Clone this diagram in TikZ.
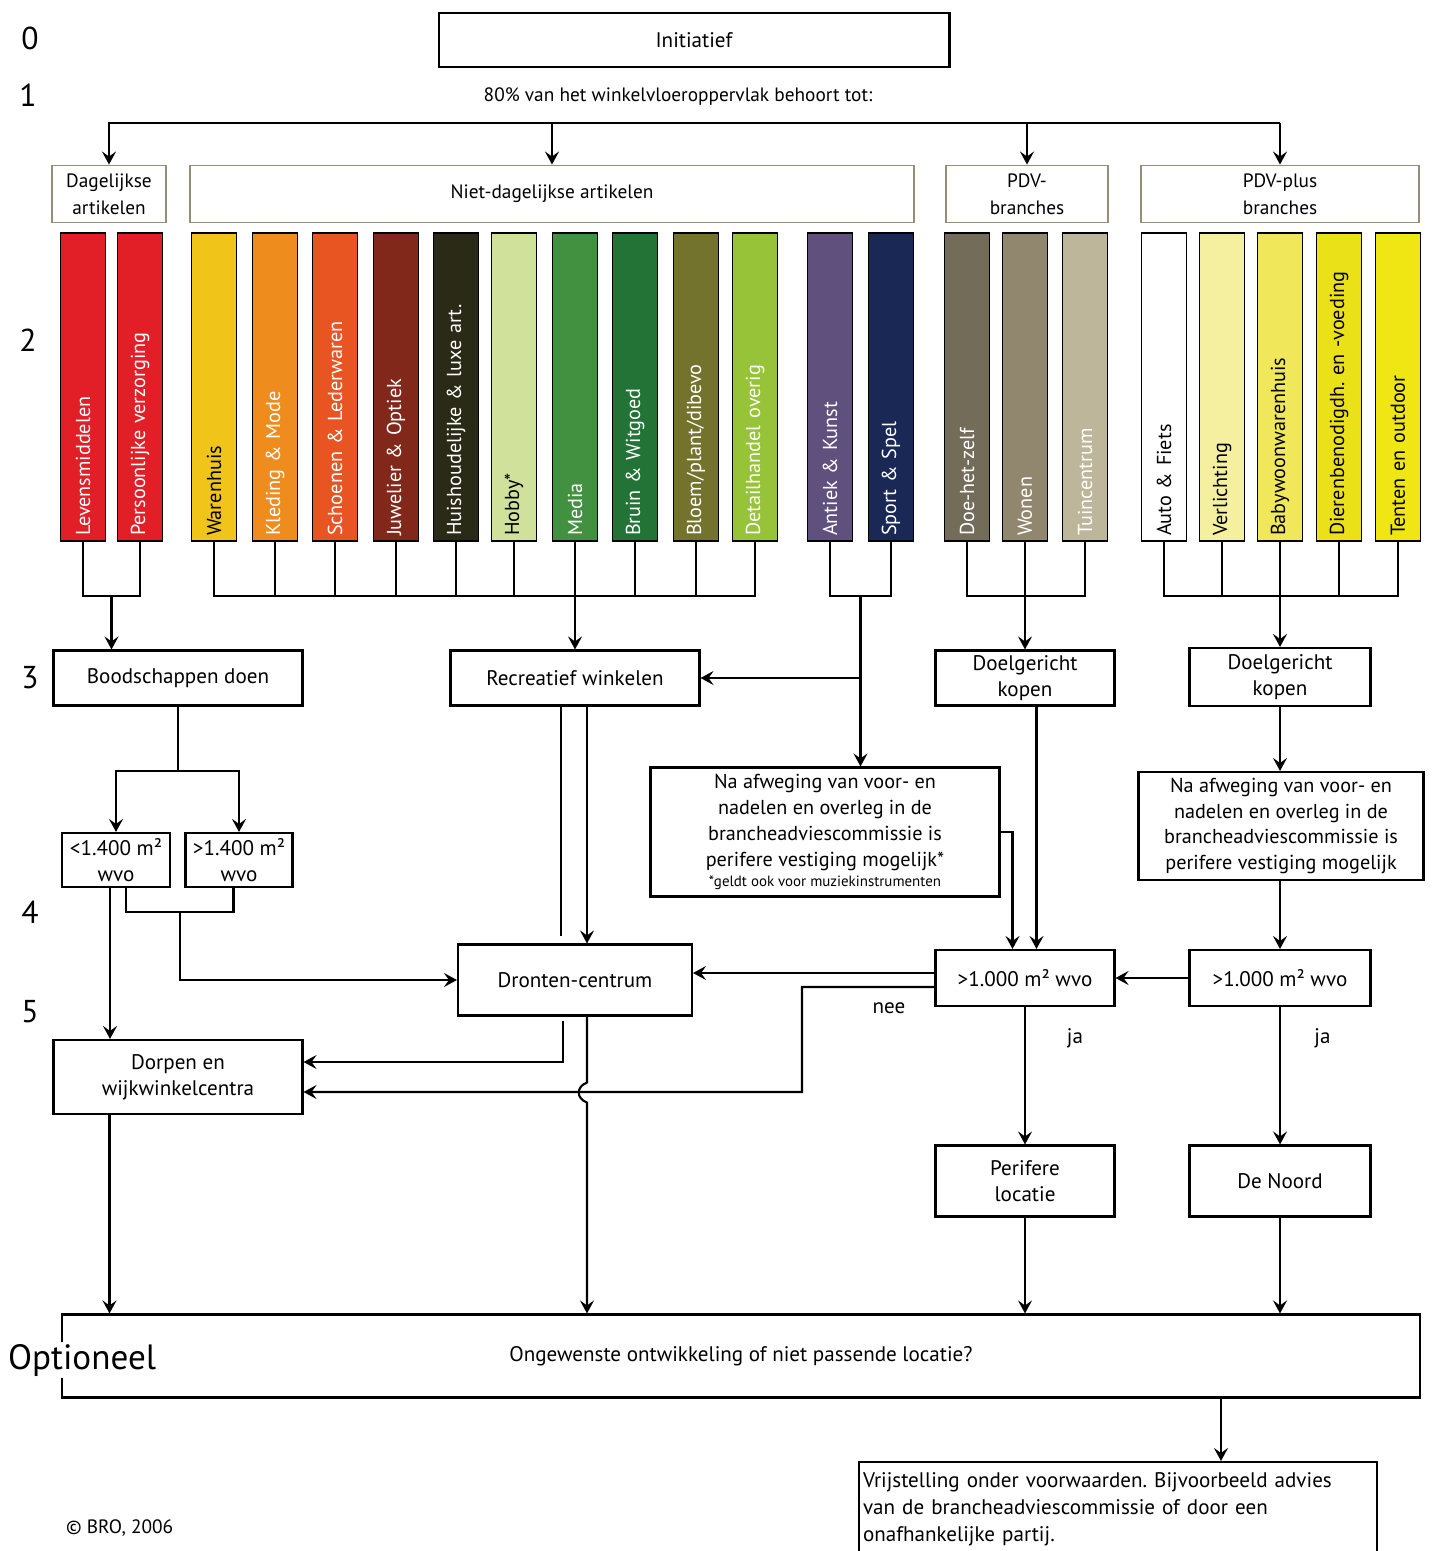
\documentclass[tikz,border=0pt]{standalone}
\usepackage{fontspec}
\setmainfont{PT Sans}
\frenchspacing
\usetikzlibrary{arrows.meta,positioning,calc}
\definecolor{levred}{RGB}{226,30,38}
\definecolor{waren}{RGB}{241,196,25}
\definecolor{kleding}{RGB}{238,140,30}
\definecolor{schoen}{RGB}{232,85,35}
\definecolor{juwel}{RGB}{130,40,26}
\definecolor{huis}{RGB}{43,42,23}
\definecolor{hobby}{RGB}{208,225,155}
\definecolor{media}{RGB}{65,145,65}
\definecolor{bruin}{RGB}{35,115,55}
\definecolor{bloem}{RGB}{115,115,45}
\definecolor{detail}{RGB}{150,195,55}
\definecolor{antiek}{RGB}{95,80,125}
\definecolor{sport}{RGB}{25,40,85}
\definecolor{doe}{RGB}{115,108,88}
\definecolor{wonen}{RGB}{145,135,110}
\definecolor{tuin}{RGB}{190,182,155}
\definecolor{verl}{RGB}{245,240,160}
\definecolor{baby}{RGB}{240,232,90}
\definecolor{dieren}{RGB}{235,225,25}
\definecolor{tenten}{RGB}{240,230,20}
\definecolor{catline}{RGB}{150,140,120}
\newcommand\boxfont{\fontsize{12}{15}\selectfont}
\newcommand\catfont{\fontsize{11}{15.3}\selectfont}
\newcommand\barfont{\fontsize{11.5}{13}\selectfont}
\newcommand\naffont{\fontsize{11.5}{14.7}\selectfont}
\newcommand\notefont{\fontsize{8.5}{10}\selectfont}
\newcommand\rowfont{\fontsize{18}{20}\selectfont}
\tikzset{
  stepbox/.style={draw,line width=1.2pt,fill=white,align=center,font=\boxfont,inner sep=2pt},
  catbox/.style={draw=catline,line width=1.1pt,align=center,font=\catfont,inner sep=2pt},
  bar/.style 2 args={draw,line width=1pt,fill=#1,text=#2,rotate=90,
    minimum height=0.9cm,text width=5.96cm,align=left,inner xsep=3pt,font=\barfont},
  flow/.style={-{Stealth[length=2.6mm,width=2.8mm,inset=1mm]},line width=1.2pt},
  link/.style={line width=1.2pt},
  rowno/.style={font=\rowfont}
}
\begin{document}
\begin{tikzpicture}[x=0.02cm,y=-0.02cm]
  \path[use as bounding box,clip] (0,0) rectangle (1431,1551);
  % level numbers
  \node[rowno] (r0) at (30,38) {0};
  \node[rowno] (r1) at (28,95) {1};
  \node[rowno] (r2) at (28,340) {2};
  \node[rowno] (r3) at (30,678) {3};
  \node[rowno] (r4) at (30,912) {4};
  \node[rowno] (r5) at (30,1012) {5};
  % level 0 and 1
  \node[stepbox,minimum width=10.22cm,minimum height=1.08cm] (init) at (694,40) {Initiatief};
  \node[font=\catfont] (share) at (678,97) {80\% van het winkelvloeroppervlak behoort tot:};
  \coordinate (top) at (0,123);
  \node[catbox,minimum width=2.28cm,minimum height=1.14cm] (dag) at (109,194) {Dagelijkse\\artikelen};
  \node[catbox,minimum width=14.48cm,minimum height=1.14cm] (niet) at (552,194) {Niet-dagelijkse artikelen};
  \node[catbox,minimum width=3.24cm,minimum height=1.14cm] (pdv) at (1027,194) {PDV-\\branches};
  \node[catbox,minimum width=5.56cm,minimum height=1.14cm] (plus) at (1280,194) {PDV-plus\\branches};
  \draw[flow] (plus.north |- top) -| (dag.north);
  \draw[flow] (niet.north |- top) -- (niet.north);
  \draw[flow] (pdv.north |- top) -- (pdv.north);
  \draw[flow] (plus.north |- top) -- (plus.north);
  % level 2: branches
  \node[bar={levred}{white}] (levens) at (83,387) {Levensmiddelen};
  \node[bar={levred}{white}] (pers) at (140,387) {Persoonlijke verzorging};
  \node[bar={waren}{black}] (waren) at (214,387) {Warenhuis};
  \node[bar={kleding}{white}] (kled) at (275,387) {Kleding \& Mode};
  \node[bar={schoen}{white}] (schoen) at (335,387) {Schoenen \& Lederwaren};
  \node[bar={juwel}{white}] (juwel) at (396,387) {Juwelier \& Optiek};
  \node[bar={huis}{white}] (huis) at (456,387) {Huishoudelijke \& luxe art.};
  \node[bar={hobby}{black}] (hobby) at (514,387) {Hobby*};
  \node[bar={media}{white}] (media) at (575,387) {Media};
  \node[bar={bruin}{white}] (bruin) at (635,387) {Bruin \& Witgoed};
  \node[bar={bloem}{white}] (bloem) at (696,387) {Bloem/plant/dibevo};
  \node[bar={detail}{white}] (detail) at (755,387) {Detailhandel overig};
  \node[bar={antiek}{white}] (antiek) at (830,387) {Antiek \& Kunst};
  \node[bar={sport}{white}] (sport) at (891,387) {Sport \& Spel};
  \node[bar={doe}{white}] (doe) at (967,387) {Doe-het-zelf};
  \node[bar={wonen}{white}] (wonen) at (1025,387) {Wonen};
  \node[bar={tuin}{white}] (tuin) at (1085,387) {Tuincentrum};
  \node[bar={white}{black}] (auto) at (1164,387) {Auto \& Fiets};
  \node[bar={verl}{black}] (verl) at (1222,387) {Verlichting};
  \node[bar={baby}{black}] (baby) at (1280,387) {Babywoonwarenhuis};
  \node[bar={dieren}{black}] (dieren) at (1339,387) {Dierenbenodigdh. en -voeding};
  \node[bar={tenten}{black}] (tenten) at (1398,387) {Tenten en outdoor};
  % level 3
  \node[stepbox,minimum width=4.98cm,minimum height=1.1cm] (boods) at (178,678) {Boodschappen doen};
  \node[stepbox,minimum width=4.98cm,minimum height=1.1cm] (recr) at (575,678) {Recreatief winkelen};
  \node[stepbox,minimum width=3.58cm,minimum height=1.1cm] (doel1) at (1025,678) {Doelgericht\\kopen};
  \node[stepbox,minimum width=3.62cm,minimum height=1.16cm] (doel2) at (1280,677) {Doelgericht\\kopen};
  \coordinate (bus) at (0,596);
  \coordinate (dbus) at ($(levens.west |- bus)!.5!(pers.west |- bus)$);
  \coordinate (abus) at ($(antiek.west |- bus)!.5!(sport.west |- bus)$);
  \draw[link] (levens.west) |- (dbus) -| (pers.west);
  \draw[flow] (dbus) -- (dbus |- boods.north);
  \draw[link] (waren.west) |- (detail.west |- bus) -- (detail.west)
    (kled.west) -- (kled.west |- bus) (schoen.west) -- (schoen.west |- bus)
    (juwel.west) -- (juwel.west |- bus) (huis.west) -- (huis.west |- bus)
    (hobby.west) -- (hobby.west |- bus) (bruin.west) -- (bruin.west |- bus)
    (bloem.west) -- (bloem.west |- bus);
  \draw[flow] (media.west) -- (media.west |- recr.north);
  \draw[link] (antiek.west) |- (abus) -| (sport.west);
  \draw[link] (doe.west) |- (tuin.west |- bus) -- (tuin.west);
  \draw[flow] (wonen.west) -- (wonen.west |- doel1.north);
  \draw[link] (auto.west) |- (tenten.west |- bus) -- (tenten.west)
    (verl.west) -- (verl.west |- bus) (dieren.west) -- (dieren.west |- bus);
  \draw[flow] (baby.west) -- (baby.west |- doel2.north);
  % level 4
  \node[stepbox,minimum width=2.16cm,minimum height=1.08cm] (klein) at (116,860) {<1.400 m²\\wvo};
  \node[stepbox,minimum width=2.14cm,minimum height=1.08cm] (groot) at (239,860) {>1.400 m²\\wvo};
  \node[stepbox,font=\naffont,minimum width=6.98cm,minimum height=2.58cm] (naaf1) at (825,832)
    {Na afweging van voor- en\\nadelen en overleg in de\\brancheadviescommissie is\\perifere vestiging mogelijk*\\[-3pt]{\notefont *geldt ook voor muziekinstrumenten}};
  \node[stepbox,font=\naffont,minimum width=5.7cm,minimum height=2.16cm] (naaf2) at (1281,826)
    {Na afweging van voor- en\\nadelen en overleg in de\\brancheadviescommissie is\\perifere vestiging mogelijk};
  \coordinate (bsplit) at ($(boods.south)+(0,64)$);
  \draw[link] (boods.south) -- (bsplit);
  \draw[flow] (bsplit) -| (klein.north);
  \draw[flow] (bsplit) -| (groot.north);
  \draw[flow] (abus) -- (abus |- naaf1.north);
  \draw[flow] (abus |- recr.east) -- (recr.east);
  \draw[flow] (doel2) -- (doel2 |- naaf2.north);
  % level 5
  \node[stepbox,minimum width=4.68cm,minimum height=1.42cm] (dronten) at (575,980) {Dronten-centrum};
  \node[stepbox,minimum width=3.58cm,minimum height=1.12cm] (vloer1) at (1025,978) {>1.000 m² wvo};
  \node[stepbox,minimum width=3.62cm,minimum height=1.12cm] (vloer2) at (1280,978) {>1.000 m² wvo};
  \node[stepbox,minimum width=4.98cm,minimum height=1.48cm] (dorpen) at (178,1077) {Dorpen en\\wijkwinkelcentra};
  \node[stepbox,minimum width=3.58cm,minimum height=1.42cm] (perif) at (1025,1181) {Perifere\\locatie};
  \node[stepbox,minimum width=3.62cm,minimum height=1.42cm] (noord) at (1280,1181) {De Noord};
  \coordinate (kbus) at (180,912);
  \coordinate (neebend) at (802,1092);
  \draw[link] ([xshift=0.2cm]klein.south) |- (kbus) -| ([xshift=-0.11cm]groot.south);
  \draw[flow] (kbus) |- (dronten.west);
  \draw[flow] ([xshift=-0.12cm]klein.south) -- ([xshift=-0.12cm]klein.south |- dorpen.north);
  \draw[flow] ([xshift=0.24cm]recr.south) -- ([xshift=0.24cm]dronten.north);
  \draw[link] ([xshift=-0.28cm]recr.south) -- ([xshift=-0.28cm,yshift=0.14cm]dronten.north);
  \draw[flow] ([xshift=-0.24cm,yshift=-0.08cm]dronten.south) |- ([yshift=0.3cm]dorpen.east);
  \draw[flow] (naaf1.east) -| ([xshift=-0.25cm]vloer1.north);
  \draw[flow] ([xshift=0.23cm]doel1.south) -- ([xshift=0.23cm]vloer1.north);
  \draw[flow] (naaf2.south -| vloer2) -- (vloer2.north);
  \draw[flow] (vloer2) -- (vloer1);
  \draw[flow] ([yshift=0.1cm]vloer1.west) -- ([yshift=0.1cm]vloer1.west -| dronten.east);
  \draw[flow] ([yshift=-0.18cm]vloer1.west) -| (neebend) -- ([yshift=-0.3cm]dorpen.east);
  \node[font=\boxfont] (nee) at (889,1008) {nee};
  \draw[flow] (vloer1) -- node[pos=.23,right=0.7cm,font=\boxfont] (ja1) {ja} (perif);
  \draw[flow] (vloer2) -- node[pos=.23,right=0.55cm,font=\boxfont] (ja2) {ja} (noord);
  % optional step
  \node[stepbox,minimum width=27.18cm,minimum height=1.66cm] (opt) at (741,1356) {Ongewenste ontwikkeling of niet passende locatie?};
  \node[font=\fontsize{20}{22}\selectfont,fill=white,anchor=west,inner sep=1pt] (optlabel) at (6,1360) {Optioneel};
  \node[stepbox,anchor=north,minimum width=10.36cm,minimum height=1.9cm,text width=10.2cm,align=left,inner xsep=1pt,
    font=\fontsize{12}{15.3}\selectfont] (vrij) at (1118,1461)
    {Vrijstelling onder voorwaarden. Bijvoorbeeld advies\\van de brancheadviescommissie of door een\\onafhankelijke partij.};
  \coordinate (hopx) at ([xshift=0.24cm]dronten.south);
  \draw[flow] (hopx) -- ++(0,66) .. controls +(-11,4) and +(-11,-4) .. ++(0,20) -- (hopx |- opt.north);
  \draw[flow] ([xshift=-1.37cm]dorpen.south) -- ([xshift=-1.37cm]dorpen.south |- opt.north);
  \draw[flow] (perif) -- (perif |- opt.north);
  \draw[flow] (noord) -- (noord |- opt.north);
  \draw[flow] ([xshift=2.06cm]vrij.north |- opt.south) -- ([xshift=2.06cm]vrij.north);
  \node[font=\catfont,anchor=west] (copy) at (60,1528) {© BRO, 2006};
\end{tikzpicture}
\end{document}
